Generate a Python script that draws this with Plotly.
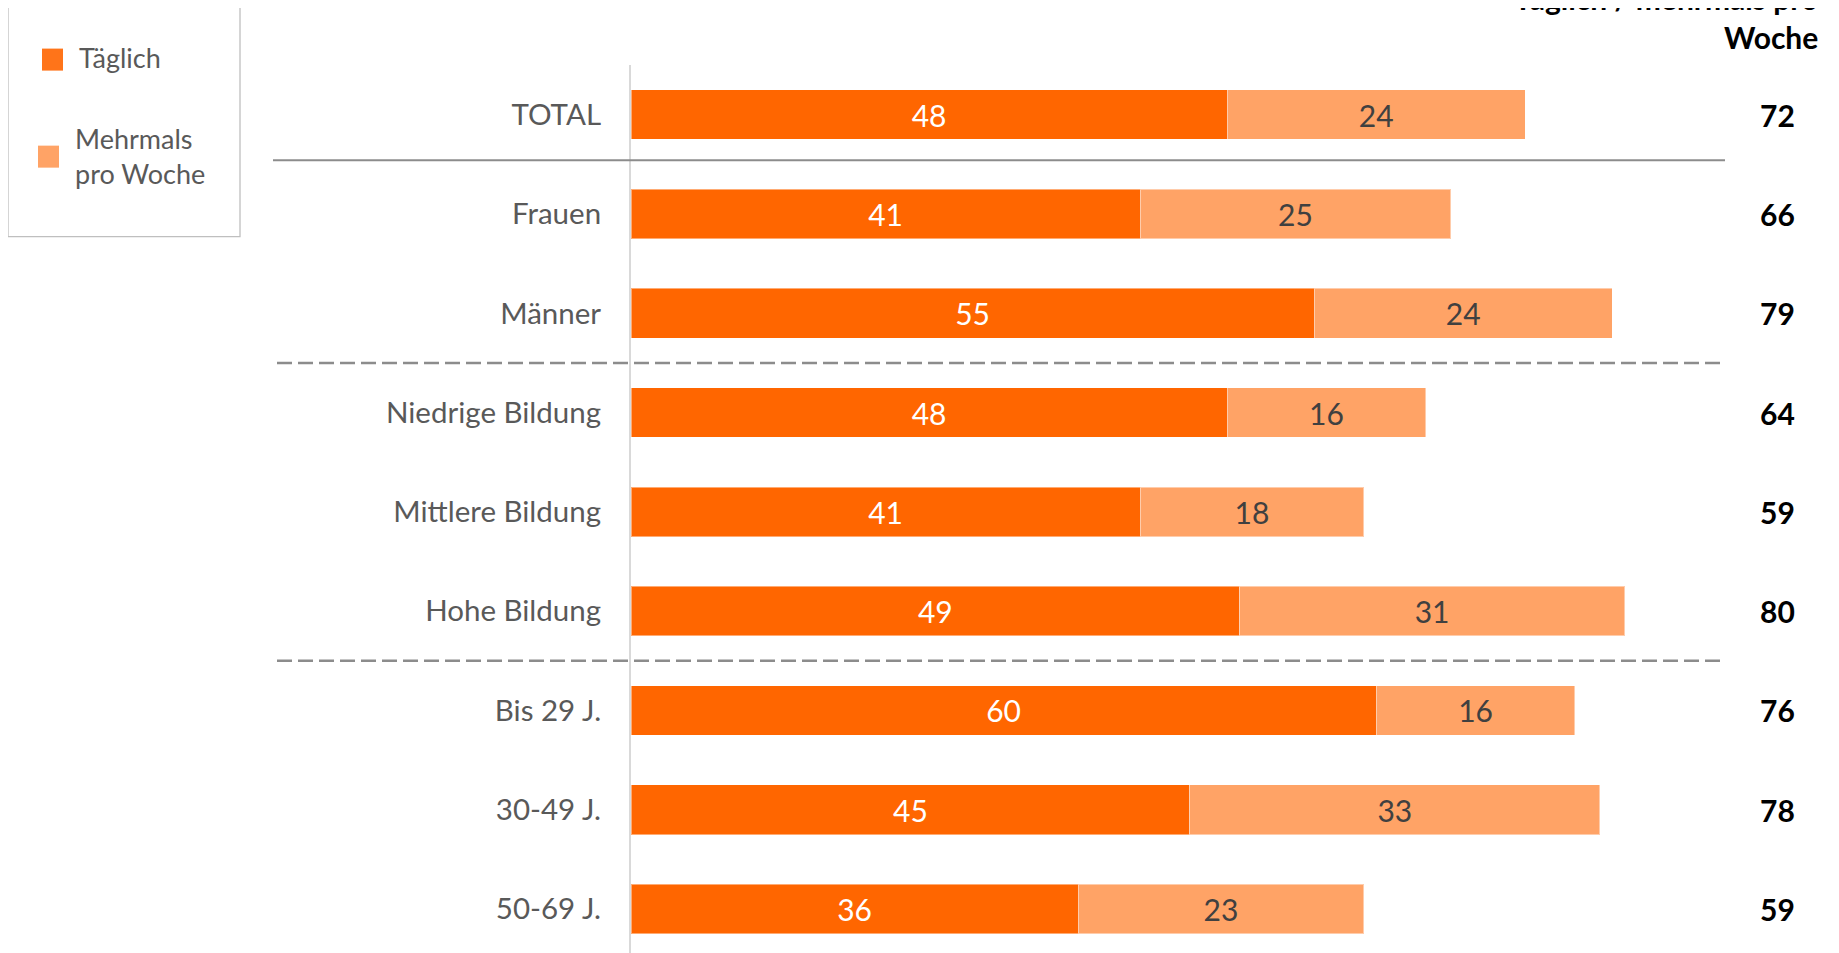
import plotly.graph_objects as go

# ---- data ----
categories = ["TOTAL", "Frauen", "Männer", "Niedrige Bildung", "Mittlere Bildung",
              "Hohe Bildung", "Bis 29 J.", "30-49 J.", "50-69 J."]
taeglich = [48, 41, 55, 48, 41, 49, 60, 45, 36]
mehrmals = [24, 25, 24, 16, 18, 31, 16, 33, 23]
totals = [72, 66, 79, 64, 59, 80, 76, 78, 59]
series_names = ["Täglich", "Mehrmals<br>pro Woche"]
totals_header = "Täglich / mehrmals pro<br>Woche"

# ---- style ----
C_DARK = "#FF6600"
C_LIGHT = "#FFA366"
FONT = "Lato"
W, H = 1839, 953
OFF = 8  # page body margin offset
L, T = 631 - OFF, 65.4 - OFF
R = W - (1725 - OFF)
B = 0
PW, PH = W - L - R, H - T - B
PX_PER_UNIT = 12.42
PX_PER_ROW = 99.25

def xp(px):
    return (px - OFF - L) / PW

def yp(py):
    return 1 - (py - OFF - T) / PH

ypos = list(range(len(categories)))

fig = go.Figure()
fig.add_trace(go.Bar(
    y=ypos, x=taeglich, orientation="h", name="Täglich",
    marker=dict(color=C_DARK, line=dict(color="rgba(255,255,255,0.45)", width=1)),
    text=taeglich, texttemplate="%{x}", textposition="inside",
    insidetextanchor="middle", textangle=0,
    textfont=dict(family=FONT, size=30, color="white"),
    showlegend=False, hoverinfo="skip",
))
fig.add_trace(go.Bar(
    y=ypos, x=mehrmals, orientation="h", name="Mehrmals pro Woche",
    marker=dict(color=C_LIGHT, line=dict(color="rgba(255,255,255,0.45)", width=1)),
    text=mehrmals, texttemplate="%{x}", textposition="inside",
    insidetextanchor="middle", textangle=0,
    textfont=dict(family=FONT, size=30, color="#404040"),
    showlegend=False, hoverinfo="skip",
))

shapes = []
# separators
shapes.append(dict(type="line", xref="paper", yref="y", x0=xp(273), x1=xp(1725),
                   y0=0.46, y1=0.46, line=dict(color="#8c8c8c", width=2)))
for yv in (2.5, 5.5):
    shapes.append(dict(type="line", xref="paper", yref="y", x0=xp(277), x1=xp(1725),
                       y0=yv, y1=yv, line=dict(color="#8c8c8c", width=2.5, dash="15px,6px")))
# legend box & swatches
shapes.append(dict(type="rect", xref="paper", yref="paper", x0=xp(8), x1=xp(240),
                   y0=yp(237), y1=yp(5), line=dict(color="#bfbfbf", width=1.3),
                   fillcolor="rgba(0,0,0,0)"))
shapes.append(dict(type="rect", xref="paper", yref="paper", x0=xp(42), x1=xp(63),
                   y0=yp(71), y1=yp(49), line=dict(width=0), fillcolor="#FF7419"))
shapes.append(dict(type="rect", xref="paper", yref="paper", x0=xp(38), x1=xp(59),
                   y0=yp(168), y1=yp(146), line=dict(width=0), fillcolor=C_LIGHT))

annotations = []
annotations.append(dict(xref="paper", yref="paper", x=xp(77), y=yp(58), text=series_names[0],
                        showarrow=False, xanchor="left", yanchor="middle",
                        font=dict(family=FONT, size=27, color="#595959")))
annotations.append(dict(xref="paper", yref="paper", x=xp(73), y=yp(156), text=series_names[1],
                        showarrow=False, xanchor="left", yanchor="middle", align="left",
                        font=dict(family=FONT, size=27, color="#595959")))
# totals
for i, tv in enumerate(totals):
    annotations.append(dict(xref="paper", yref="y", x=xp(1777), y=i, text=f"<b>{tv}</b>",
                            showarrow=False, xanchor="center", yanchor="middle",
                            font=dict(family=FONT, size=30, color="#000000")))
annotations.append(dict(xref="paper", yref="paper", x=xp(1820), y=yp(57), text=f"<b>{totals_header}</b>",
                        showarrow=False, xanchor="right", yanchor="bottom", align="right",
                        font=dict(family=FONT, size=30, color="#000000")))

fig.update_layout(
    width=W, height=H,
    margin=dict(l=L, r=R, t=T, b=B, pad=0),
    barmode="stack", bargap=0.5,
    plot_bgcolor="white", paper_bgcolor="white",
    shapes=shapes, annotations=annotations,
    showlegend=False,
    xaxis=dict(range=[0, PW / PX_PER_UNIT], visible=False, fixedrange=True),
    yaxis=dict(range=[-0.5 + PH / PX_PER_ROW, -0.5],
               tickmode="array", tickvals=ypos, ticktext=categories,
               showgrid=False, zeroline=False,
               showline=True, linecolor="#d9d9d9", linewidth=2,
               ticks="", ticklabelstandoff=22,
               tickfont=dict(family=FONT, size=29.5, color="#595959"), fixedrange=True),
)

fig.write_html("out.html")
